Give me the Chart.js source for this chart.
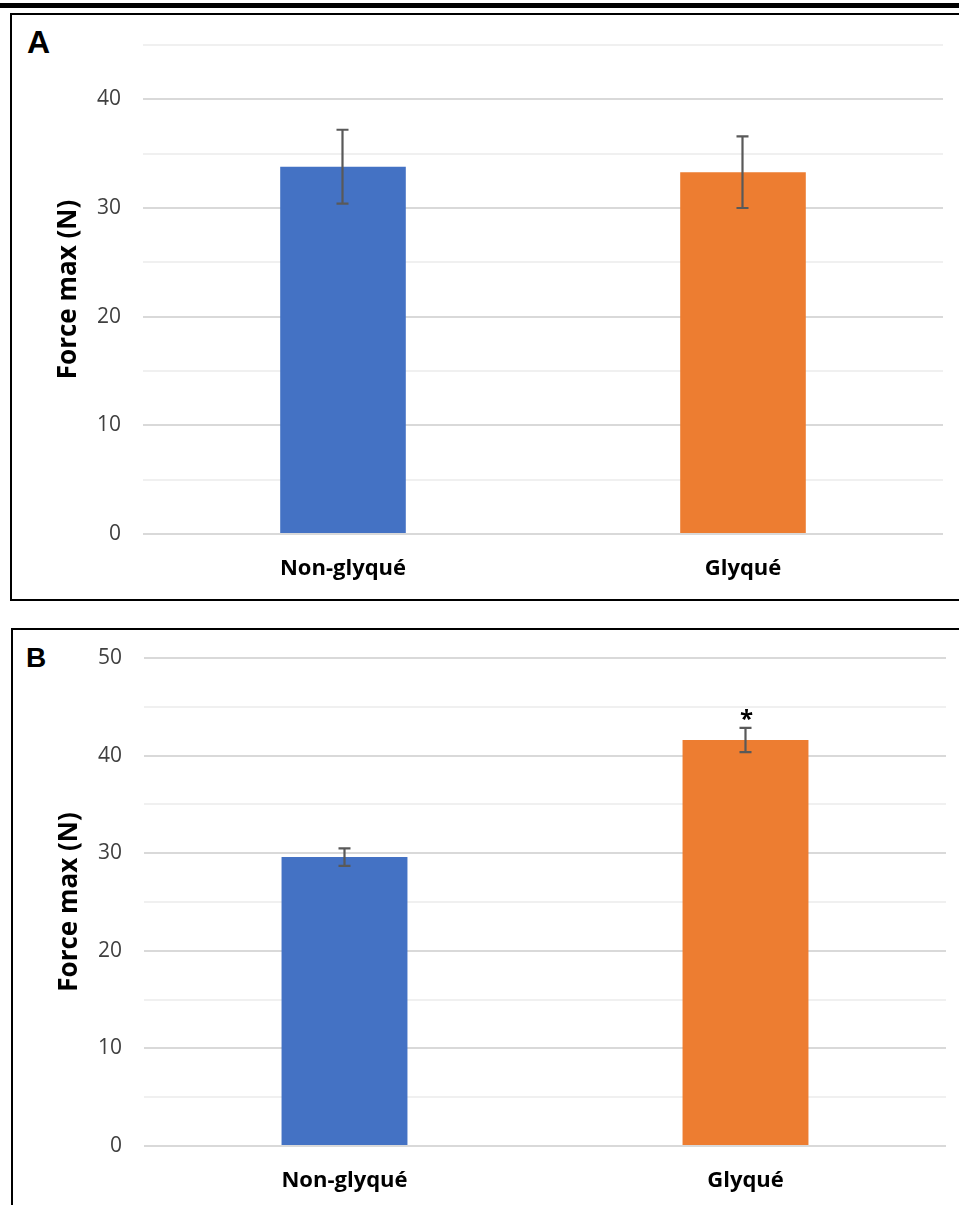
<!DOCTYPE html>
<html>
<head>
<meta charset="utf-8">
<script src="https://cdn.jsdelivr.net/npm/chart.js@4"></script>
<style>
  html, body { margin:0; padding:0; background:#fff; }
  body { width:959px; height:1205px; position:relative; overflow:hidden; font-family:"Open Sans", sans-serif; }
  .topbar { position:absolute; left:0; top:3px; width:959px; height:5px; background:#000; }
  .panel { position:absolute; border:2px solid #000; box-sizing:border-box; }
  .letter { position:absolute; font-family:"Liberation Sans", Arial, sans-serif; font-weight:bold; line-height:1; color:#000; }
  canvas { position:absolute; }
</style>
</head>
<body>
<div class="topbar"></div>
<div class="panel" style="left:10px; top:13px; width:970px; height:588px;"></div>
<div class="panel" style="left:11px; top:628px; width:970px; height:600px;"></div>
<div class="letter" style="left:27px; top:26px; font-size:32px;">A</div>
<div class="letter" style="left:26px; top:644px; font-size:28px;">B</div>
<div style="position:absolute; left:12px; top:15px; width:947px; height:583px;"><canvas id="cA"></canvas></div>
<div style="position:absolute; left:13px; top:630px; width:946px; height:575px;"><canvas id="cB"></canvas></div>
<script>
const categories = ["Non-glyqué", "Glyqué"];
const meansA = [33.8, 33.3];
const errorsA = [3.4, 3.3];
const meansB = [29.6, 41.6];
const errorsB = [0.9, 1.25];
const significanceB = ["", "*"];
const yTitle = "Force max (N)";
const colors = ["#4472C4", "#ED7D31"];

const errorBarPlugin = {
  id: 'errbars',
  afterDatasetsDraw(chart, args, opts) {
    const ctx = chart.ctx;
    const meta = chart.getDatasetMeta(0);
    const ys = chart.scales.y;
    ctx.save();
    meta.data.forEach((bar, i) => {
      const m = opts.means[i], e = opts.errors[i];
      const x = Math.round(bar.x) + 0.5 - 1;
      const yt = ys.getPixelForValue(m + e), yb = ys.getPixelForValue(m - e);
      ctx.strokeStyle = '#595959';
      ctx.lineWidth = 2.2;
      ctx.beginPath();
      ctx.moveTo(x, yt); ctx.lineTo(x, yb);
      ctx.moveTo(x - 6, yt); ctx.lineTo(x + 6, yt);
      ctx.moveTo(x - 6, yb); ctx.lineTo(x + 6, yb);
      ctx.stroke();
      if (opts.marks && opts.marks[i]) {
        ctx.fillStyle = '#000';
        ctx.font = 'bold 24px "Open Sans", sans-serif';
        ctx.textAlign = 'center';
        ctx.textBaseline = 'bottom';
        ctx.fillText(opts.marks[i], x + 1, yt + 4);
      }
    });
    ctx.restore();
  }
};

function makeChart(id, means, errors, marks, yMax, topPad, xHeight, xPad, rightPad) {
  return new Chart(document.getElementById(id), {
    type: 'bar',
    data: {
      labels: categories,
      datasets: [{ data: means, backgroundColor: colors, borderWidth: 0,
                   categoryPercentage: 1.0, barPercentage: 0.314 }]
    },
    options: {
      responsive: true, maintainAspectRatio: false, animation: false,
      layout: { padding: { top: topPad, right: rightPad, left: 41, bottom: 0 } },
      plugins: { legend: { display: false }, tooltip: { enabled: false },
                 errbars: { means, errors, marks } },
      scales: {
        x: {
          grid: { display: false, drawTicks: false },
          border: { display: false },
          ticks: { color: '#000', padding: xPad,
                   font: { family: '"Open Sans", sans-serif', size: 22, weight: 'bold' } },
          afterFit(s) { s.height = xHeight; s.paddingLeft = 0; s.paddingRight = 0; }
        },
        y: {
          min: 0, max: yMax,
          ticks: { stepSize: 5, padding: 22, color: '#404040',
                   font: { family: '"Open Sans", sans-serif', size: 21 },
                   callback: v => (v % 10 === 0 ? v : '') },
          grid: { drawTicks: false, lineWidth: 2,
                  color: c => (c.tick && c.tick.value % 10 === 0 ? '#D9D9D9' : '#F0F0F0') },
          border: { display: false },
          title: { display: true, text: yTitle, color: '#000', padding: { top: 0, bottom: 0 },
                   font: { family: '"Open Sans", sans-serif', size: 26, weight: 'bold' } },
          afterFit(s) { s.width = 90; s.paddingTop = 0; s.paddingBottom = 0; }
        }
      }
    },
    plugins: [errorBarPlugin]
  });
}
makeChart('cA', meansA, errorsA, null, 45, 30, 64, 22, 16);
makeChart('cB', meansB, errorsB, significanceB, 50, 28, 59, 22, 13);
</script>
</body>
</html>
